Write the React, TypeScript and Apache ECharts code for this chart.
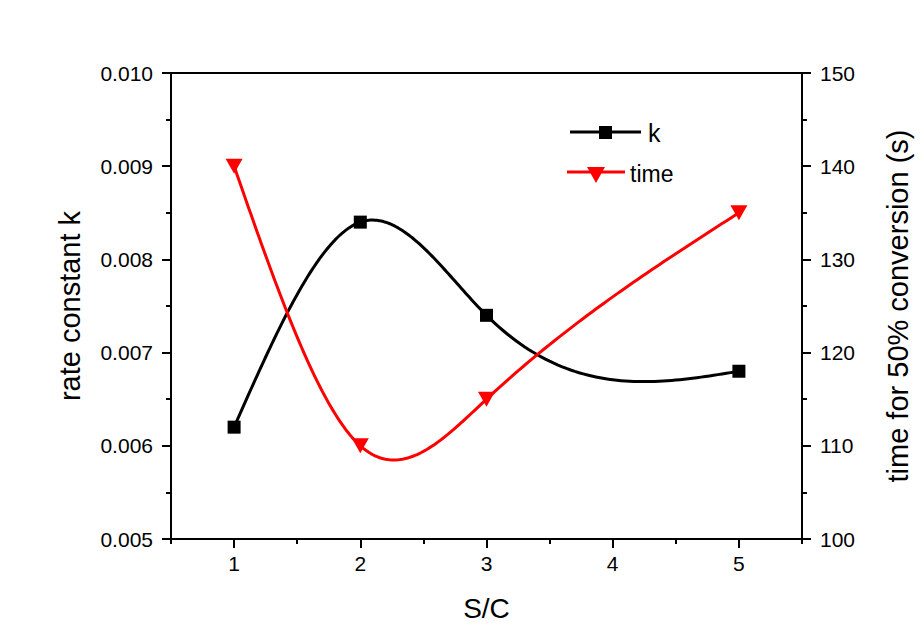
import React, { useEffect, useRef } from "react";
import * as echarts from "echarts";

const categories = ["1", "2", "3", "4", "5"];
const scValues = [1, 2, 3, 5];
const kValues = [0.0062, 0.0084, 0.0074, 0.0068];
const timeValues = [140, 110, 115, 135];
const leftTicks = { min: 0.005, max: 0.01, interval: 0.001 };
const rightTicks = { min: 100, max: 150, interval: 10 };

const FONT = "Liberation Sans, Arial, sans-serif";

// natural cubic spline second derivatives
function splineM(xs: number[], ys: number[]): number[] {
  const n = xs.length;
  const M = new Array(n).fill(0);
  if (n < 3) return M;
  const a: number[] = [], b: number[] = [], c: number[] = [], d: number[] = [];
  for (let i = 1; i < n - 1; i++) {
    const h0 = xs[i] - xs[i - 1];
    const h1 = xs[i + 1] - xs[i];
    a.push(h0);
    b.push(2 * (h0 + h1));
    c.push(h1);
    d.push(6 * ((ys[i + 1] - ys[i]) / h1 - (ys[i] - ys[i - 1]) / h0));
  }
  const m = b.length;
  for (let i = 1; i < m; i++) {
    const w = a[i] / b[i - 1];
    b[i] -= w * c[i - 1];
    d[i] -= w * d[i - 1];
  }
  const sol = new Array(m).fill(0);
  sol[m - 1] = d[m - 1] / b[m - 1];
  for (let i = m - 2; i >= 0; i--) sol[i] = (d[i] - c[i] * sol[i + 1]) / b[i];
  for (let i = 0; i < m; i++) M[i + 1] = sol[i];
  return M;
}

function splineAt(xs: number[], ys: number[], M: number[], i: number, x: number) {
  const h = xs[i + 1] - xs[i];
  const A = xs[i + 1] - x;
  const B = x - xs[i];
  return (
    (M[i] * A * A * A) / (6 * h) +
    (M[i + 1] * B * B * B) / (6 * h) +
    (ys[i] - (M[i] * h * h) / 6) * (A / h) +
    (ys[i + 1] - (M[i + 1] * h * h) / 6) * (B / h)
  );
}

function splineSeries(name: string, ys: number[], yAxisIndex: number, color: string) {
  const M = splineM(scValues, ys);
  return {
    name,
    type: "custom",
    xAxisIndex: 2,
    yAxisIndex,
    z: 2,
    silent: true,
    data: scValues.map((x, i) => [x, ys[i]]),
    encode: { x: 0, y: 1 },
    renderItem: (params: any, api: any) => {
      const i = params.dataIndex;
      if (i >= scValues.length - 1) return { type: "group", children: [] };
      const pts: number[][] = [];
      const steps = 60;
      for (let s = 0; s <= steps; s++) {
        const x = scValues[i] + ((scValues[i + 1] - scValues[i]) * s) / steps;
        pts.push(api.coord([x, splineAt(scValues, ys, M, i, x)]));
      }
      return {
        type: "polyline",
        shape: { points: pts },
        style: { stroke: color, lineWidth: 3, fill: "none", lineJoin: "round" },
      };
    },
  };
}

export default function App() {
  const ref = useRef<HTMLDivElement>(null);
  useEffect(() => {
    if (!ref.current) return;
    const chart = echarts.init(ref.current, null, { renderer: "svg" });
    const axisLine = { show: true, lineStyle: { color: "#000", width: 2 } };
    chart.setOption({
      animation: false,
      backgroundColor: "#fff",
      textStyle: { fontFamily: FONT },
      grid: {
        left: 171,
        right: 116,
        top: 73,
        bottom: 104,
        show: true,
        borderColor: "#000",
        borderWidth: 2,
        backgroundColor: "transparent",
      },
      graphic: [
        { type: "line", shape: { x1: 570, y1: 132, x2: 641, y2: 132 }, style: { stroke: "#000", lineWidth: 3 }, z: 10 },
        { type: "rect", shape: { x: 599, y: 126, width: 13, height: 13 }, style: { fill: "#000" }, z: 11 },
        {
          type: "text",
          x: 648,
          y: 133,
          style: { text: "k", fill: "#000", fontSize: 25, fontFamily: FONT, verticalAlign: "middle", align: "left" },
          z: 11,
        },
        { type: "line", shape: { x1: 567, y1: 172, x2: 625, y2: 172 }, style: { stroke: "#ff0000", lineWidth: 3 }, z: 10 },
        {
          type: "polygon",
          shape: { points: [[587, 167], [605, 167], [596, 183]] },
          style: { fill: "#ff0000" },
          z: 11,
        },
        {
          type: "text",
          x: 630,
          y: 174,
          style: { text: "time", fill: "#000", fontSize: 23, fontFamily: FONT, verticalAlign: "middle", align: "left" },
          z: 11,
        },
      ],
      xAxis: [
        {
          type: "category",
          data: categories,
          boundaryGap: true,
          position: "bottom",
          name: "S/C",
          nameLocation: "middle",
          nameGap: 55,
          nameTextStyle: { color: "#000", fontSize: 28, fontFamily: FONT },
          axisLine,
          axisTick: { show: true, length: 5, lineStyle: { color: "#000", width: 2 } },
          axisLabel: { show: true, color: "#000", fontSize: 21, margin: 14, fontFamily: FONT },
          splitLine: { show: false },
        },
        {
          type: "category",
          data: categories,
          boundaryGap: true,
          position: "bottom",
          axisLine: { show: false },
          axisTick: {
            show: true,
            alignWithLabel: true,
            length: 9,
            lineStyle: { color: "#000", width: 2 },
          },
          axisLabel: { show: false },
          splitLine: { show: false },
        },
        {
          type: "value",
          min: 0.5,
          max: 5.5,
          show: false,
        },
      ],
      yAxis: [
        {
          type: "value",
          position: "left",
          min: leftTicks.min,
          max: leftTicks.max,
          interval: leftTicks.interval,
          name: "rate constant k",
          nameLocation: "middle",
          nameRotate: 90,
          nameGap: 87,
          nameTextStyle: { color: "#000", fontSize: 29, fontFamily: FONT },
          axisLine,
          axisTick: { show: true, length: 9, lineStyle: { color: "#000", width: 2 } },
          minorTick: { show: true, splitNumber: 2, length: 5, lineStyle: { color: "#000", width: 2 } },
          axisLabel: {
            color: "#000",
            fontSize: 21,
            margin: 18,
            fontFamily: FONT,
            formatter: (v: number) => v.toFixed(3),
          },
          splitLine: { show: false },
        },
        {
          type: "value",
          position: "right",
          min: rightTicks.min,
          max: rightTicks.max,
          interval: rightTicks.interval,
          name: "time for 50% conversion (s)",
          nameLocation: "middle",
          nameRotate: 90,
          nameGap: 81,
          nameTextStyle: { color: "#000", fontSize: 29, fontFamily: FONT },
          axisLine,
          axisTick: { show: true, length: 9, lineStyle: { color: "#000", width: 2 } },
          minorTick: { show: true, splitNumber: 2, length: 5, lineStyle: { color: "#000", width: 2 } },
          axisLabel: { color: "#000", fontSize: 21, margin: 18, fontFamily: FONT },
          splitLine: { show: false },
        },
      ],
      series: [
        splineSeries("k", kValues, 0, "#000"),
        splineSeries("time", timeValues, 1, "#ff0000"),
        {
          name: "k",
          type: "scatter",
          xAxisIndex: 2,
          yAxisIndex: 0,
          z: 4,
          data: scValues.map((x, i) => [x, kValues[i]]),
          symbol: "rect",
          symbolSize: 13,
          itemStyle: { color: "#000", opacity: 1 },
        },
        {
          name: "time",
          type: "scatter",
          xAxisIndex: 2,
          yAxisIndex: 1,
          z: 4,
          data: scValues.map((x, i) => [x, timeValues[i]]),
          symbol: "triangle",
          symbolRotate: 180,
          symbolSize: [17, 15],
          itemStyle: { color: "#ff0000", opacity: 1 },
        },
      ],
    });
    return () => chart.dispose();
  }, []);
  return (
    <div
      ref={ref}
      style={{ position: "absolute", left: 0, top: 0, width: 920, height: 643 }}
    />
  );
}
